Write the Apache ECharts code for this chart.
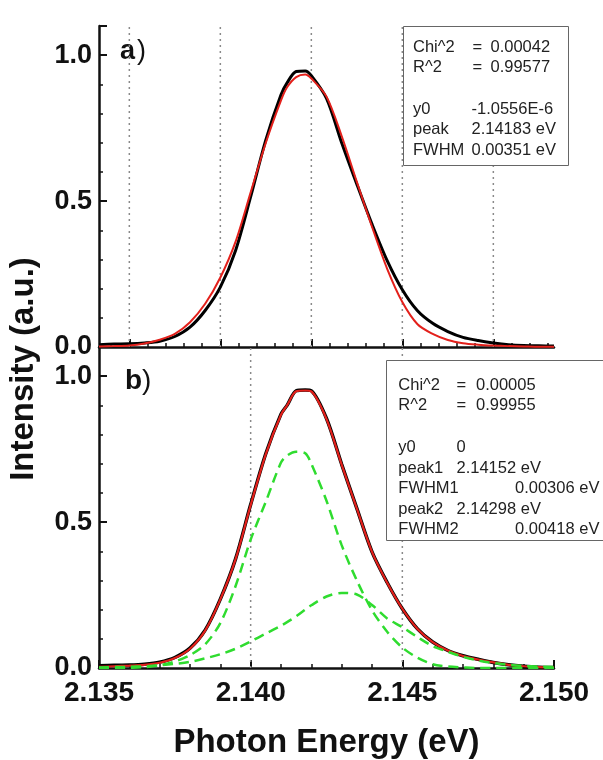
<!DOCTYPE html>
<html><head><meta charset="utf-8">
<script src="https://cdn.jsdelivr.net/npm/echarts@6/dist/echarts.min.js"></script>
<style>html,body{margin:0;padding:0;background:#fff;}#c{width:603px;height:760px;}</style>
</head><body><div id="c"></div>
<script>
// Photon energy grid (eV)
const energy = [2.135, 2.1355, 2.136, 2.1365, 2.137, 2.1375, 2.138, 2.1385, 2.139, 2.1395, 2.140, 2.1405, 2.141, 2.1412, 2.1415, 2.1418, 2.142, 2.1425, 2.143, 2.1435, 2.144, 2.1445, 2.145, 2.1455, 2.146, 2.1465, 2.147, 2.1475, 2.148, 2.1485, 2.149, 2.1495, 2.150];
// panel a) measured spectrum and single-peak fit
const topData = [0.008,0.010,0.011,0.014,0.020,0.036,0.068,0.125,0.205,0.33,0.515,0.71,0.864,0.905,0.944,0.946,0.93,0.852,0.70,0.558,0.421,0.296,0.196,0.124,0.081,0.053,0.033,0.022,0.014,0.008,0.005,0.004,0.003];
const topFit  = [0.002,0.003,0.005,0.012,0.025,0.045,0.085,0.148,0.238,0.36,0.53,0.70,0.845,0.89,0.925,0.934,0.92,0.858,0.723,0.566,0.412,0.268,0.154,0.078,0.045,0.024,0.013,0.008,0.005,0.003,0.002,0.001,0.001];
// panel b) measured spectrum, two-peak fit and its components
const botData = [0.008,0.009,0.010,0.013,0.020,0.036,0.068,0.13,0.236,0.373,0.56,0.735,0.87,0.90,0.95,0.953,0.95,0.855,0.698,0.547,0.398,0.293,0.203,0.134,0.089,0.06,0.042,0.03,0.019,0.011,0.006,0.003,0.002];
const botFit  = [0.004,0.006,0.008,0.011,0.018,0.034,0.066,0.128,0.235,0.372,0.558,0.733,0.868,0.90,0.948,0.951,0.948,0.853,0.697,0.546,0.398,0.292,0.203,0.134,0.089,0.06,0.041,0.029,0.019,0.011,0.006,0.003,0.002];
const botPeak1 = [0,0,0.001,0.003,0.009,0.022,0.044,0.081,0.154,0.28,0.44,0.57,0.704,0.728,0.741,0.736,0.70,0.573,0.421,0.30,0.198,0.124,0.07,0.035,0.013,0.005,0.002,0,0,0,0,0,0];
const botPeak2 = [0.002,0.003,0.004,0.006,0.009,0.014,0.021,0.033,0.047,0.066,0.091,0.118,0.145,0.157,0.177,0.2,0.215,0.245,0.257,0.252,0.216,0.17,0.14,0.106,0.075,0.056,0.038,0.026,0.017,0.011,0.007,0.005,0.003];
// ticks and guide lines
const topMajorTicks = [2.136, 2.139, 2.142, 2.145, 2.148];
const topMinorTicks = [2.1354, 2.1366, 2.1372, 2.1378, 2.1384, 2.1396, 2.1402, 2.1408, 2.1414, 2.1426, 2.1432, 2.1438, 2.1444, 2.1456, 2.1462, 2.1468, 2.1474, 2.1486, 2.1492, 2.1498];
const yLabels = [0, 0.5, 1.0];
const topGuides = [2.136, 2.139, 2.142, 2.145, 2.148];
const botGuides = [2.140, 2.145];
// fit result texts
const fitA = [['Chi^2','=','0.00042'],['R^2','=','0.99577'],['y0','','-1.0556E-6'],['peak','','2.14183 eV'],['FWHM','','0.00351 eV']];
const fitB = [['Chi^2','=','0.00005'],['R^2','=','0.99955'],['y0','','0'],['peak1','','2.14152 eV'],['FWHM1','','0.00306 eV'],['peak2','','2.14298 eV'],['FWHM2','','0.00418 eV']];

const FONT = '"Liberation Sans", Arial, sans-serif';
const pairs = arr => energy.map((e, i) => [e, arr[i]]);
const AX = '#111';
const YMAX = 1.1;

function yAxisCfg(grid) {
  return {
    gridIndex: grid, type: 'value', min: 0, max: YMAX, interval: 0.5,
    axisLine: {show: true, lineStyle: {color: AX, width: 2.5}},
    axisTick: {show: true, inside: true, length: 8, lineStyle: {color: AX, width: 2}},
    minorTick: {show: true, splitNumber: 5, length: 4, lineStyle: {color: AX, width: 1.5}},
    axisLabel: {formatter: v => v.toFixed(1), showMaxLabel: false, fontFamily: FONT, fontWeight: 'bold', fontSize: 27, color: AX, margin: 7},
    splitLine: {show: false}, minorSplitLine: {show: false}
  };
}
function guideSeries(v, xi, yi) {
  return {type: 'line', xAxisIndex: xi, yAxisIndex: yi, data: [[v, 0], [v, YMAX]], silent: true,
    showSymbol: false, symbol: 'none', z: 1,
    lineStyle: {color: '#8a8a8a', type: [2, 4], width: 1.5}};
}

const graphic = [];
// panel labels
graphic.push({type: 'text', x: 120, y: 52, style: {text: 'a', font: 'bold 27px ' + FONT, fill: AX, verticalAlign: 'middle'}});
graphic.push({type: 'text', x: 137, y: 52, style: {text: ')', font: '27px ' + FONT, fill: AX, verticalAlign: 'middle'}});
graphic.push({type: 'text', x: 125, y: 381, style: {text: 'b', font: 'bold 28px ' + FONT, fill: AX, verticalAlign: 'middle'}});
graphic.push({type: 'text', x: 142, y: 381, style: {text: ')', font: '28px ' + FONT, fill: AX, verticalAlign: 'middle'}});
// axis names
graphic.push({type: 'text', x: 326.5, y: 743, style: {text: 'Photon Energy (eV)', font: 'bold 33px ' + FONT, fill: AX, align: 'center', verticalAlign: 'middle'}});
graphic.push({type: 'text', x: 24, y: 369, rotation: Math.PI / 2, style: {text: 'Intensity (a.u.)', font: 'bold 33px ' + FONT, fill: AX, align: 'center', verticalAlign: 'middle'}});
// fit boxes
graphic.push({type: 'rect', shape: {x: 403.5, y: 26.5, width: 165, height: 139}, style: {fill: '#fff', stroke: '#666', lineWidth: 1}, z: 100});
const rowsA = [47.7, 67.7, 109.3, 129.3, 150];
const boxFont = '16.5px ' + FONT;
fitA.forEach((r, i) => {
  const st = {font: boxFont, fill: '#222', verticalAlign: 'middle'};
  graphic.push({type: 'text', x: 413, y: rowsA[i], z: 101, style: Object.assign({text: r[0]}, st)});
  if (r[1]) {
    graphic.push({type: 'text', x: 472.5, y: rowsA[i], z: 101, style: Object.assign({text: r[1]}, st)});
    graphic.push({type: 'text', x: 490.5, y: rowsA[i], z: 101, style: Object.assign({text: r[2]}, st)});
  } else {
    graphic.push({type: 'text', x: 471.5, y: rowsA[i], z: 101, style: Object.assign({text: r[2]}, st)});
  }
});
graphic.push({type: 'rect', shape: {x: 386.5, y: 360.5, width: 240, height: 180}, style: {fill: '#fff', stroke: '#666', lineWidth: 1}, z: 100});
const rowsB = [385.5, 405.5, 447.5, 468, 488, 509, 529];
fitB.forEach((r, i) => {
  const st = {font: boxFont, fill: '#222', verticalAlign: 'middle'};
  graphic.push({type: 'text', x: 398.3, y: rowsB[i], z: 101, style: Object.assign({text: r[0]}, st)});
  if (r[1]) {
    graphic.push({type: 'text', x: 456.5, y: rowsB[i], z: 101, style: Object.assign({text: r[1]}, st)});
    graphic.push({type: 'text', x: 476, y: rowsB[i], z: 101, style: Object.assign({text: r[2]}, st)});
  } else {
    const vx = r[0].startsWith('FWHM') ? 515 : 456.5;
    graphic.push({type: 'text', x: vx, y: rowsB[i], z: 101, style: Object.assign({text: r[2]}, st)});
  }
});

const series = [];
topGuides.forEach(v => series.push(guideSeries(v, 0, 0)));
botGuides.forEach(v => series.push(guideSeries(v, 2, 1)));
series.push(
  {type: 'line', xAxisIndex: 0, yAxisIndex: 0, data: pairs(topData), showSymbol: false, smooth: 0.3,
    lineStyle: {color: '#000', width: 3}, z: 2},
  {type: 'line', xAxisIndex: 0, yAxisIndex: 0, data: pairs(topFit), showSymbol: false, smooth: 0.3,
    lineStyle: {color: '#e3201b', width: 2}, z: 3},
  {type: 'line', xAxisIndex: 2, yAxisIndex: 1, data: pairs(botData), showSymbol: false, smooth: 0.3,
    lineStyle: {color: '#000', width: 3.5}, z: 2},
  {type: 'line', xAxisIndex: 2, yAxisIndex: 1, data: pairs(botFit), showSymbol: false, smooth: 0.3,
    lineStyle: {color: '#e3201b', width: 2.2}, z: 3},
  {type: 'line', xAxisIndex: 2, yAxisIndex: 1, data: pairs(botPeak1), showSymbol: false, smooth: 0.3,
    lineStyle: {color: '#2fdc2f', width: 2.5, type: [10, 6]}, z: 4},
  {type: 'line', xAxisIndex: 2, yAxisIndex: 1, data: pairs(botPeak2), showSymbol: false, smooth: 0.3,
    lineStyle: {color: '#2fdc2f', width: 2.5, type: [10, 6]}, z: 4}
);

const chart = echarts.init(document.getElementById('c'), null, {renderer: 'canvas'});
chart.setOption({
  animation: false,
  backgroundColor: '#fff',
  grid: [
    {left: 99, top: 26, width: 455, height: 321},
    {left: 99, top: 347, width: 455, height: 321}
  ],
  xAxis: [
    {gridIndex: 0, type: 'value', min: 2.135, max: 2.150,
      axisLine: {show: true, lineStyle: {color: AX, width: 2.5}},
      axisTick: {show: true, inside: true, length: 8, customValues: topMajorTicks, lineStyle: {color: AX, width: 2}},
      axisLabel: {show: false}, splitLine: {show: false}},
    {gridIndex: 0, type: 'value', position: 'bottom', min: 2.135, max: 2.150,
      axisLine: {show: false},
      axisTick: {show: true, inside: true, length: 4, customValues: topMinorTicks, lineStyle: {color: AX, width: 1.5}},
      axisLabel: {show: false}, splitLine: {show: false}},
    {gridIndex: 1, type: 'value', min: 2.135, max: 2.150, interval: 0.005,
      axisLine: {show: true, lineStyle: {color: AX, width: 2.5}},
      axisTick: {show: true, inside: true, length: 8, lineStyle: {color: AX, width: 2}},
      minorTick: {show: true, splitNumber: 5, length: 4, lineStyle: {color: AX, width: 1.5}},
      axisLabel: {formatter: v => v.toFixed(3), fontFamily: FONT, fontWeight: 'bold', fontSize: 28, color: AX, margin: 11},
      splitLine: {show: false}}
  ],
  yAxis: [yAxisCfg(0), yAxisCfg(1)],
  series: series,
  graphic: graphic
});
</script></body></html>
